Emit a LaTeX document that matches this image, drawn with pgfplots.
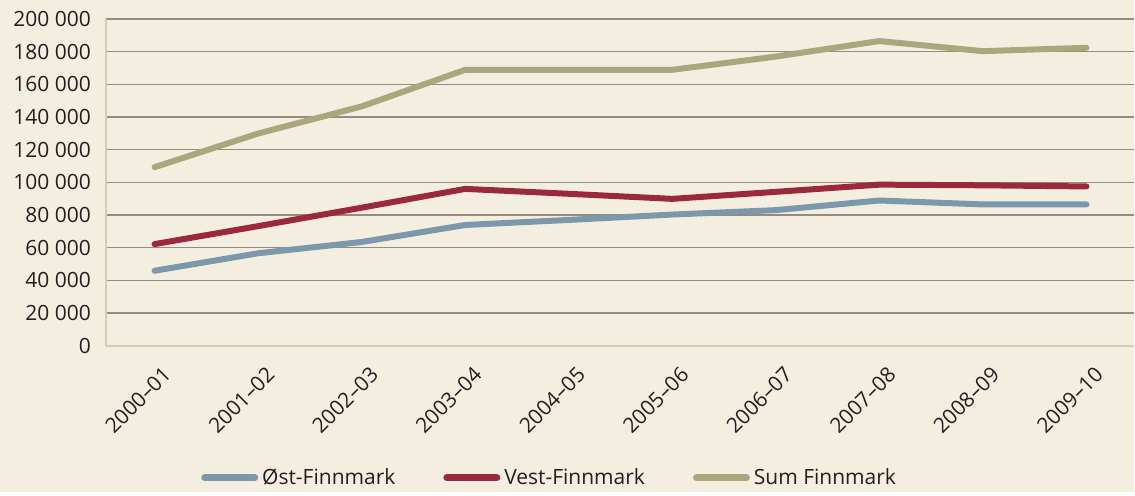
\documentclass[border=0pt]{standalone}
\usepackage{fontspec}
\setmainfont{Open Sans}
\usepackage{pgfplots}
\pgfplotsset{compat=1.18}
\definecolor{bgc}{HTML}{F4EEE1}
\definecolor{ostc}{HTML}{7D97AC}
\definecolor{vestc}{HTML}{9A2A3B}
\definecolor{sumc}{HTML}{AAA67D}
\definecolor{gridc}{HTML}{978A7E}
\definecolor{axc}{HTML}{D6CCB3}
\definecolor{txt}{HTML}{231F20}
\begin{document}
\begin{tikzpicture}
\fill[bgc] (-53pt,-73pt) rectangle (514.5pt,173pt);
\begin{axis}[
  at={(0,0)}, anchor=south west,
  scale only axis, width=514.5pt, height=163.5pt,
  xmin=-0.47, xmax=9.46, ymin=0, ymax=200000,
  axis x line*=bottom, axis y line*=left,
  axis line style={axc, line width=0.9pt, -},
  xtick={0,...,9},
  xticklabels={2000–01,2001–02,2002–03,2003–04,2004–05,2005–06,2006–07,2007–08,2008–09,2009–10},
  ytick={0,20000,...,200000},
  yticklabels={0,20 000,40 000,60 000,80 000,100 000,120 000,140 000,160 000,180 000,200 000},
  scaled y ticks=false,
  major tick length=0pt,
  ymajorgrids, grid style={gridc, line width=0.6pt},
  tick label style={font=\fontsize{10.5}{12}\selectfont, text=txt},
  yticklabel style={xshift=-4pt},
  xticklabel style={rotate=45, anchor=north east, xshift=-1pt, yshift=-6pt},
  legend columns=3,
  legend style={at={(axis description cs:0.4325,-0.404)}, anchor=center,
    draw=none, fill=none, font=\fontsize{10.5}{12}\selectfont, text=txt,
    /tikz/every even column/.append style={column sep=22pt}},
  legend image code/.code={\draw[#1, line width=3.5pt, line cap=round] (0pt,0pt) -- (25pt,0pt);},
  every axis plot/.append style={line width=3pt, line join=round, line cap=round},
]
\addplot[ostc] coordinates {(0,45900) (1,56600) (2,63500) (3,73900) (4,77000) (5,80300) (6,83000) (7,88900) (8,86500) (9,86500)};
\addplot[vestc] coordinates {(0,62200) (1,73200) (2,84500) (3,96000) (4,93000) (5,89900) (6,94200) (7,98600) (8,98200) (9,97500)};
\addplot[sumc] coordinates {(0,109300) (1,129900) (2,146500) (3,168900) (4,168900) (5,168900) (6,177000) (7,186500) (8,180300) (9,182400)};
\legend{Øst-Finnmark,Vest-Finnmark,Sum Finnmark}
\end{axis}
\end{tikzpicture}
\end{document}
